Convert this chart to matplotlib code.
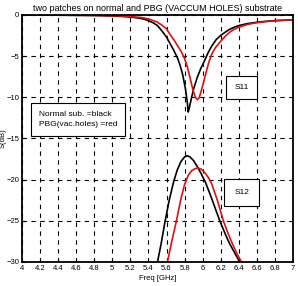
import numpy as np
import matplotlib
matplotlib.use("Agg")
import matplotlib.pyplot as plt

plt.rcParams['font.family'] = ['Liberation Sans', 'DejaVu Sans']

# S11 normal substrate (black)
f11_n = [4.0, 4.4, 4.8, 5.0, 5.1, 5.2, 5.3, 5.35, 5.4, 5.45, 5.5, 5.53, 5.56, 5.6, 5.64,
         5.68, 5.72, 5.75, 5.78, 5.81, 5.83, 5.84, 5.85, 5.87, 5.9, 5.94, 5.98, 6.02,
         6.06, 6.1, 6.15, 6.2, 6.25, 6.3, 6.35, 6.4, 6.5, 6.6, 6.7, 6.8, 6.9, 7.0]
s11_n = [-0.02, -0.04, -0.08, -0.13, -0.18, -0.26, -0.4, -0.52, -0.7, -0.95, -1.3, -1.7,
         -2.1, -2.7, -3.5, -4.3, -5.2, -6.1, -7.3, -9.0, -10.6, -11.8, -11.4, -10.4, -9.0,
         -7.6, -6.5, -5.6, -4.6, -3.8, -3.0, -2.5, -2.1, -1.75, -1.5, -1.3, -1.05, -0.9,
         -0.78, -0.7, -0.65, -0.6]
# S11 PBG vacuum holes (red)
f11_p = [4.0, 4.4, 4.8, 5.0, 5.1, 5.2, 5.3, 5.35, 5.4, 5.45, 5.5, 5.55, 5.6, 5.64, 5.68,
         5.72, 5.76, 5.8, 5.83, 5.86, 5.89, 5.92, 5.94, 5.96, 5.98, 6.01, 6.04, 6.07,
         6.1, 6.14, 6.2, 6.25, 6.3, 6.35, 6.4, 6.5, 6.6, 6.7, 6.8, 6.9, 7.0]
s11_p = [-0.01, -0.03, -0.06, -0.1, -0.14, -0.2, -0.3, -0.38, -0.5, -0.68, -0.9, -1.25,
         -1.7, -2.4, -3.0, -3.7, -4.4, -5.3, -6.3, -7.6, -9.0, -10.0, -10.3, -10.1, -9.4,
         -8.2, -6.9, -5.7, -4.8, -4.0, -3.2, -2.6, -2.1, -1.75, -1.5, -1.15, -0.95,
         -0.82, -0.72, -0.65, -0.6]
# S12 normal substrate (black)
f12_n = [5.5, 5.54, 5.58, 5.63, 5.68, 5.72, 5.76, 5.8, 5.83, 5.86, 5.9, 5.94, 5.98, 6.03,
         6.08, 6.14, 6.19, 6.25, 6.3, 6.36, 6.41]
s12_n = [-30, -27.8, -25.3, -22.5, -20.2, -18.8, -17.8, -17.25, -17.1, -17.25, -17.7,
         -18.4, -19.2, -20.3, -21.7, -23.5, -25, -26.6, -27.8, -29.0, -30]
# S12 PBG vacuum holes (red)
f12_p = [5.61, 5.66, 5.71, 5.76, 5.8, 5.84, 5.88, 5.92, 5.95, 5.98, 6.02, 6.06, 6.1, 6.16,
         6.23, 6.28, 6.33, 6.38, 6.43]
s12_p = [-30, -27.4, -25, -22.3, -20.6, -19.5, -18.9, -18.65, -18.6, -18.7, -19.1, -19.7,
         -20.5, -22.4, -25, -26.5, -27.8, -29.0, -30]

xticks = np.arange(4, 7.01, 0.2)
xlabels = ['4', '4.2', '4.4', '4.6', '4.8', '5', '5.2', '5.4', '5.6', '5.8',
           '6', '6.2', '6.4', '6.6', '6.8', '7']

fig = plt.figure(figsize=(2.98, 2.86), dpi=100)
ax = fig.add_axes([0.074, 0.084, 0.909, 0.864])

ax.plot(f11_n, s11_n, color='black', lw=1.2)
ax.plot(f11_p, s11_p, color='#e01010', lw=1.2)
ax.plot(f12_n, s12_n, color='black', lw=1.2)
ax.plot(f12_p, s12_p, color='#e01010', lw=1.2)

ax.set_xlim(4, 7)
ax.set_ylim(-30, 0)
ax.set_xticks(xticks)
ax.set_xticklabels(xlabels)
ax.set_yticks([-30, -25, -20, -15, -10, -5, 0])
ax.grid(True, color='black', linestyle=(0, (4, 4)), lw=0.8)
ax.tick_params(labelsize=5.5, direction='in', length=2, width=0.8, pad=2)
for s in ax.spines.values():
    s.set_linewidth(1.3)

ax.set_title('two patches on normal and PBG (VACCUM HOLES) substrate', fontsize=6.5, pad=2.5)
ax.set_xlabel('Freq [GHz]', fontsize=5.5, labelpad=2)
ax.set_ylabel('S(dB)', fontsize=5.5)
ax.yaxis.set_label_coords(-0.058, 0.5)

box = dict(boxstyle='square,pad=1.0', fc='white', ec='black', lw=0.8)
ax.text(6.435, -8.8, 'S11', fontsize=6, ha='center', va='center', bbox=box)
ax.text(6.435, -21.6, 'S12', fontsize=6, ha='center', va='center',
        bbox=dict(boxstyle='square,pad=1.2', fc='white', ec='black', lw=0.8))
ax.text(4.62, -12.7, 'Normal sub. =black\nPBG(vac.holes) =red', fontsize=6,
        ha='center', va='center', multialignment='left', linespacing=1.7,
        bbox=dict(boxstyle='square,pad=0.9', fc='white', ec='black', lw=0.8))

fig.savefig('out.png', dpi=100)
